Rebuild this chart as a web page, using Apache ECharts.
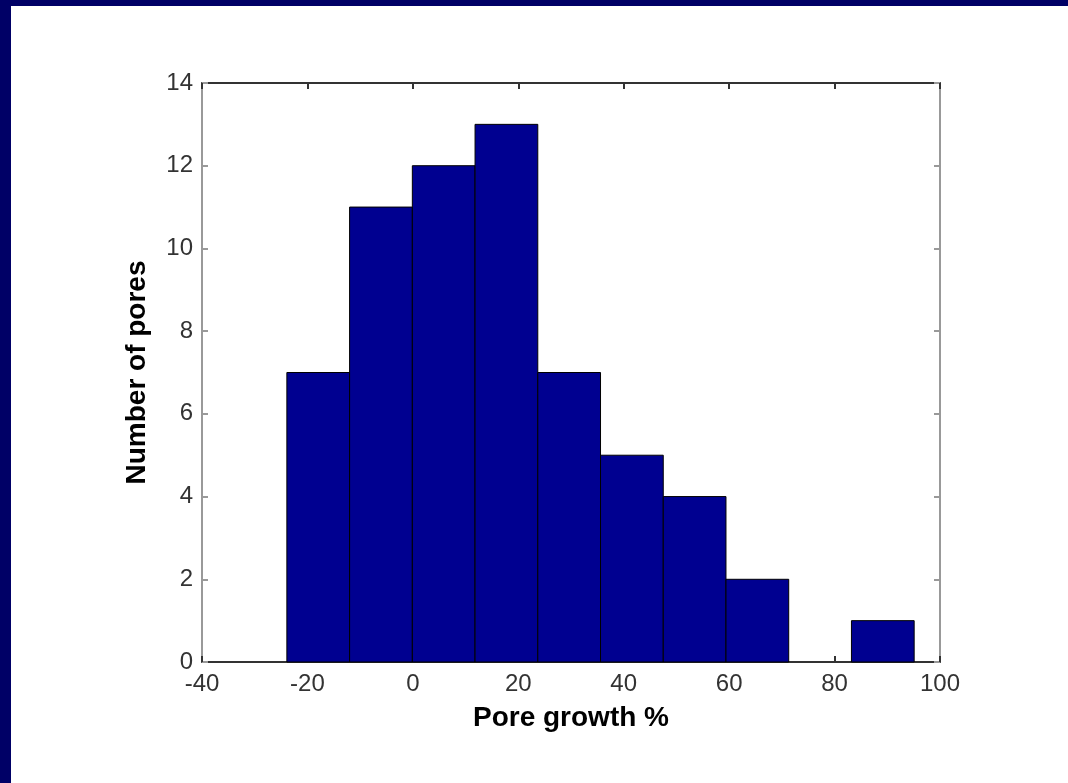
<!DOCTYPE html>
<html>
<head>
<meta charset="utf-8">
<script src="https://cdn.jsdelivr.net/npm/echarts@6/dist/echarts.min.js"></script>
<style>
html,body{margin:0;padding:0;background:#000066;width:1068px;height:783px;overflow:hidden;}
#c{position:absolute;left:11px;top:6px;width:1057px;height:777px;background:#fff;}
</style>
</head>
<body>
<div id="c"></div>
<script>
const binEdges = [-23.9, -12.0, -0.1, 11.8, 23.7, 35.6, 47.5, 59.4, 71.3, 83.2, 95.1];
const counts = [7, 11, 12, 13, 7, 5, 4, 2, 0, 1];
const xTicks = [-40, -20, 0, 20, 40, 60, 80, 100];
const yTicks = [0, 2, 4, 6, 8, 10, 12, 14];
const xTitle = 'Pore growth %';
const yTitle = 'Number of pores';

const data = counts.map((c, i) => [binEdges[i], binEdges[i + 1], c]);
const chart = echarts.init(document.getElementById('c'), null, {renderer: 'canvas'});
const labelStyle = {color: '#333', fontSize: 24, fontFamily: 'Liberation Sans, Arial, sans-serif'};
const nameStyle = {color: '#000', fontSize: 28, fontWeight: 'bold', fontFamily: 'Liberation Sans, Arial, sans-serif'};
function axisBase(color) {
  return {
    axisLine: {show: true, onZero: false, lineStyle: {color: color, width: 2}},
    axisTick: {show: true, inside: true, length: 6, lineStyle: {color: color, width: 2}},
    splitLine: {show: false}
  };
}
chart.setOption({
  animation: false,
  grid: {left: 191, top: 77, right: 128, bottom: 121, containLabel: false},
  xAxis: [Object.assign(axisBase('#333'), {
    type: 'value', min: xTicks[0], max: xTicks[xTicks.length - 1], interval: 20,
    position: 'bottom',
    name: xTitle, nameLocation: 'middle', nameGap: 42, nameTextStyle: nameStyle,
    axisLabel: Object.assign({margin: 10}, labelStyle)
  }), Object.assign(axisBase('#333'), {
    type: 'value', min: xTicks[0], max: xTicks[xTicks.length - 1], interval: 20,
    position: 'top',
    axisLabel: {show: false}
  })],
  yAxis: [Object.assign(axisBase('#999'), {
    type: 'value', min: yTicks[0], max: yTicks[yTicks.length - 1], interval: 2,
    position: 'left',
    name: yTitle, nameLocation: 'middle', nameGap: 51, nameTextStyle: nameStyle,
    axisLabel: Object.assign({margin: 9}, labelStyle)
  }), Object.assign(axisBase('#999'), {
    type: 'value', min: yTicks[0], max: yTicks[yTicks.length - 1], interval: 2,
    position: 'right',
    axisLabel: {show: false}
  })],
  series: [{
    type: 'custom',
    xAxisIndex: 0, yAxisIndex: 0,
    data: data,
    encode: {x: [0, 1], y: 2},
    renderItem: function (params, api) {
      const v = api.value(2);
      if (!v) return null;
      const p0 = api.coord([api.value(0), 0]);
      const p1 = api.coord([api.value(1), v]);
      return {
        type: 'rect',
        shape: {x: p0[0], y: p1[1], width: p1[0] - p0[0], height: p0[1] - p1[1]},
        style: {fill: '#000090', stroke: '#000', lineWidth: 1}
      };
    }
  }]
});
</script>
</body>
</html>
